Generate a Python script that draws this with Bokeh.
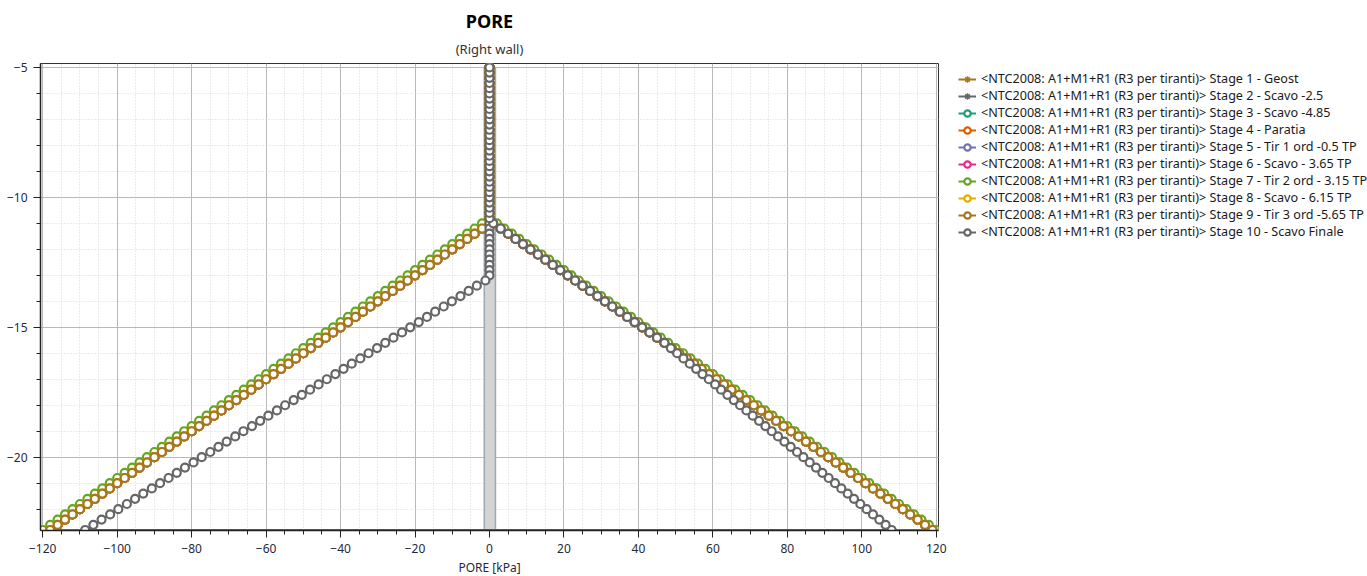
from bokeh.plotting import figure
from bokeh.models import Legend, LegendItem, FixedTicker, Title, Range1d
from bokeh.embed import file_html
from bokeh.resources import INLINE

# ---------------- data ----------------
depth = [-5.0, -5.2, -5.4, -5.6, -5.8, -6.0, -6.2, -6.4, -6.6, -6.8,
         -7.0, -7.2, -7.4, -7.6, -7.8, -8.0, -8.2, -8.4, -8.6, -8.8,
         -9.0, -9.2, -9.4, -9.6, -9.8, -10.0, -10.2, -10.4, -10.6, -10.8,
         -11.0, -11.2, -11.4, -11.6, -11.8, -12.0, -12.2, -12.4, -12.6, -12.8,
         -13.0, -13.2, -13.4, -13.6, -13.8, -14.0, -14.2, -14.4, -14.6, -14.8,
         -15.0, -15.2, -15.4, -15.6, -15.8, -16.0, -16.2, -16.4, -16.6, -16.8,
         -17.0, -17.2, -17.4, -17.6, -17.8, -18.0, -18.2, -18.4, -18.6, -18.8,
         -19.0, -19.2, -19.4, -19.6, -19.8, -20.0, -20.2, -20.4, -20.6, -20.8,
         -21.0, -21.2, -21.4, -21.6, -21.8, -22.0, -22.2, -22.4, -22.6, -22.8]

# pore pressure magnitude on the left face (drawn negative), kPa
left_base = [0, 0, 0, 0, 0, 0, 0, 0, 0, 0,
             0, 0, 0, 0, 0, 0, 0, 0, 0, 0,
             0, 0, 0, 0, 0, 0, 0, 0, 0, 0,
             0, 2, 4, 6, 8, 10, 12, 14, 16, 18,
             20, 22, 24, 26, 28, 30, 32, 34, 36, 38,
             40, 42, 44, 46, 48, 50, 52, 54, 56, 58,
             60, 62, 64, 66, 68, 70, 72, 74, 76, 78,
             80, 82, 84, 86, 88, 90, 92, 94, 96, 98,
             100, 102, 104, 106, 108, 110, 112, 114, 116, 118]
left_stage7 = [0, 0, 0, 0, 0, 0, 0, 0, 0, 0,
               0, 0, 0, 0, 0, 0, 0, 0, 0, 0,
               0, 0, 0, 0, 0, 0, 0, 0, 0, 0,
               2, 4, 6, 8, 10, 12, 14, 16, 18, 20,
               22, 24, 26, 28, 30, 32, 34, 36, 38, 40,
               42, 44, 46, 48, 50, 52, 54, 56, 58, 60,
               62, 64, 66, 68, 70, 72, 74, 76, 78, 80,
               82, 84, 86, 88, 90, 92, 94, 96, 98, 100,
               102, 104, 106, 108, 110, 112, 114, 116, 118, 120]
left_final = [0, 0, 0, 0, 0, 0, 0, 0, 0, 0,
              0, 0, 0, 0, 0, 0, 0, 0, 0, 0,
              0, 0, 0, 0, 0, 0, 0, 0, 0, 0,
              0, 0, 0, 0, 0, 0, 0, 0, 0, 0,
              0, 1.1, 3.4, 5.6, 7.8, 10.1, 12.3, 14.6, 16.8, 19.0,
              21.3, 23.5, 25.8, 28.0, 30.2, 32.5, 34.7, 37.0, 39.2, 41.4,
              43.7, 45.9, 48.2, 50.4, 52.6, 54.9, 57.1, 59.4, 61.6, 63.8,
              66.1, 68.3, 70.6, 72.8, 75.0, 77.3, 79.5, 81.8, 84.0, 86.2,
              88.5, 90.7, 93.0, 95.2, 97.4, 99.7, 101.9, 104.2, 106.4, 108.6]

# pore pressure on the right face, kPa
right_base = [0, 0, 0, 0, 0, 0, 0, 0, 0, 0,
              0, 0, 0, 0, 0, 0, 0, 0, 0, 0,
              0, 0, 0, 0, 0, 0, 0, 0, 0, 0,
              1, 3, 5, 7, 9, 11, 13, 15, 17, 19,
              21, 23, 25, 27, 29, 31, 33, 35, 37, 39,
              41, 43, 45, 47, 49, 51, 53, 55, 57, 59,
              61, 63, 65, 67, 69, 71, 73, 75, 77, 79,
              81, 83, 85, 87, 89, 91, 93, 95, 97, 99,
              101, 103, 105, 107, 109, 111, 113, 115, 117, 119]
right_stage7 = [0, 0, 0, 0, 0, 0, 0, 0, 0, 0,
                0, 0, 0, 0, 0, 0, 0, 0, 0, 0,
                0, 0, 0, 0, 0, 0, 0, 0, 0, 0,
                2, 4, 6, 8, 10, 12, 14, 16, 18, 20,
                22, 24, 26, 28, 30, 32, 34, 36, 38, 40,
                42, 44, 46, 48, 50, 52, 54, 56, 58, 60,
                62, 64, 66, 68, 70, 72, 74, 76, 78, 80,
                82, 84, 86, 88, 90, 92, 94, 96, 98, 100,
                102, 104, 106, 108, 110, 112, 114, 116, 118, 120]
right_final = [0, 0, 0, 0, 0, 0, 0, 0, 0, 0,
               0, 0, 0, 0, 0, 0, 0, 0, 0, 0,
               0, 0, 0, 0, 0, 0, 0, 0, 0, 0,
               1, 3, 5, 7, 9, 11, 13, 15, 17, 19,
               21, 23, 25, 27, 29, 31, 33, 35, 37, 39,
               41, 43, 45, 47, 48.7, 50.4, 52.1, 53.8, 55.5, 57.2,
               58.9, 60.6, 62.2, 63.9, 65.6, 67.3, 69.0, 70.7, 72.4, 74.1,
               75.8, 77.5, 79.2, 80.9, 82.6, 84.3, 86.0, 87.7, 89.4, 91.1,
               92.8, 94.5, 96.2, 97.9, 99.6, 101.3, 103.0, 104.7, 106.4, 108.0]

profiles = {
    "base": (left_base, right_base),
    "stage7": (left_stage7, right_stage7),
    "final": (left_final, right_final),
}

stage_labels = [
    "<NTC2008: A1+M1+R1 (R3 per tiranti)> Stage 1 - Geost",
    "<NTC2008: A1+M1+R1 (R3 per tiranti)> Stage 2 - Scavo -2.5",
    "<NTC2008: A1+M1+R1 (R3 per tiranti)> Stage 3 - Scavo -4.85",
    "<NTC2008: A1+M1+R1 (R3 per tiranti)> Stage 4 - Paratia",
    "<NTC2008: A1+M1+R1 (R3 per tiranti)> Stage 5 - Tir 1 ord -0.5 TP",
    "<NTC2008: A1+M1+R1 (R3 per tiranti)> Stage 6 - Scavo - 3.65 TP",
    "<NTC2008: A1+M1+R1 (R3 per tiranti)> Stage 7 - Tir 2 ord - 3.15 TP",
    "<NTC2008: A1+M1+R1 (R3 per tiranti)> Stage 8 - Scavo - 6.15 TP",
    "<NTC2008: A1+M1+R1 (R3 per tiranti)> Stage 9 - Tir 3 ord -5.65 TP",
    "<NTC2008: A1+M1+R1 (R3 per tiranti)> Stage 10 - Scavo Finale",
]
stage_profile = ["base", "base", "base", "base", "base", "base",
                 "stage7", "base", "base", "final"]

x_ticks = [-120, -100, -80, -60, -40, -20, 0, 20, 40, 60, 80, 100, 120]
y_ticks = [-20, -15, -10, -5]

wall_left = [-1.4]
wall_right = [1.6]
wall_top = [-5.0]
wall_bottom = [-23.0]

# ---------------- styles ----------------
stage_colors = ["#A6761D", "#666666", "#1B9E77", "#D95F02", "#7570B3",
                "#E7298A", "#66A61E", "#E6AB02", "#A6761D", "#666666"]
stage_markers = ["asterisk", "asterisk", "circle", "circle", "circle",
                 "circle", "circle", "circle", "circle", "circle"]
FONT = "Noto Sans"

for arr in (left_base, left_stage7, left_final, right_base, right_stage7, right_final):
    assert len(arr) == len(depth), len(arr)

p = figure(frame_width=898, frame_height=467,
           x_range=Range1d(-120.6, 120.6), y_range=Range1d(-22.82, -4.85),
           output_backend="svg", toolbar_location=None, title=None,
           min_border_left=40, min_border_right=415, min_border_top=0,
           min_border_bottom=0, background_fill_color="white",
           border_fill_color="white")

p.add_layout(Title(text="(Right wall)", align="center", text_font=FONT,
                   text_font_size="13px", text_font_style="normal",
                   text_color="#333333", standoff=11), "above")
p.add_layout(Title(text="PORE", align="center", text_font=FONT,
                   text_font_size="18px", text_font_style="bold",
                   text_color="#000000", standoff=0), "above")
p.add_layout(Title(text=" ", align="center", text_font=FONT,
                   text_font_size="1px", standoff=3), "above")

p.outline_line_color = "#333333"
p.outline_line_width = 1

# axes
for ax in (p.xaxis[0], p.yaxis[0]):
    ax.axis_line_color = "#222222"
    ax.axis_line_width = 1.5
    ax.major_tick_line_color = "#222222"
    ax.minor_tick_line_color = "#222222"
    ax.major_tick_out = 7
    ax.major_tick_in = 0
    ax.minor_tick_out = 4
    ax.minor_tick_in = 0
    ax.major_label_text_font = FONT
    ax.major_label_text_font_size = "12px"
    ax.major_label_text_color = "#1f2a3a"
    ax.major_label_standoff = 6
    ax.axis_label_text_font = FONT
    ax.axis_label_text_font_size = "12px"
    ax.axis_label_text_font_style = "normal"
    ax.axis_label_text_color = "#1f2a3a"

p.xaxis[0].ticker = FixedTicker(ticks=x_ticks, minor_ticks=list(range(-120, 121, 5)))
p.yaxis[0].ticker = FixedTicker(ticks=y_ticks, minor_ticks=list(range(-22, -4, 1)))
p.xaxis[0].axis_label = "PORE [kPa]"
p.xaxis[0].axis_label_standoff = 3

# grids
for g in (p.xgrid[0], p.ygrid[0]):
    g.grid_line_color = "#b8b8b8"
    g.grid_line_width = 1
    g.minor_grid_line_color = "#d6d6d6"
    g.minor_grid_line_dash = "1 2"
    g.minor_grid_line_width = 1

# wall
p.quad(left=wall_left, right=wall_right, top=wall_top, bottom=wall_bottom,
       fill_color="#d4d4d4", line_color="#9ea8b3", line_width=1.5)

items = []
for label, prof, color, marker in zip(stage_labels, stage_profile, stage_colors, stage_markers):
    lv, rv = profiles[prof]
    xs = [-v for v in lv] + [v for v in reversed(rv)]
    ys = list(depth) + list(reversed(depth))
    lr = p.line(xs, ys, line_color=color, line_width=2)
    if marker == "circle":
        sr = p.scatter(xs, ys, marker="circle", size=8, fill_color="white",
                       line_color=color, line_width=2.2)
    else:
        sr = p.scatter(xs, ys, marker="asterisk", size=10, line_color=color,
                       line_width=1.5)
    items.append(LegendItem(label=label, renderers=[lr, sr]))

legend = Legend(items=items, location=(20, 290), orientation="vertical",
                label_text_font=FONT, label_text_font_size="12.6px",
                label_text_color="#1a1a1a", glyph_width=18, glyph_height=16,
                label_height=16, label_standoff=5, spacing=0, padding=0,
                margin=0, border_line_color=None, background_fill_alpha=0)
p.add_layout(legend, "right")

open("out.html", "w").write(file_html(p, INLINE))
